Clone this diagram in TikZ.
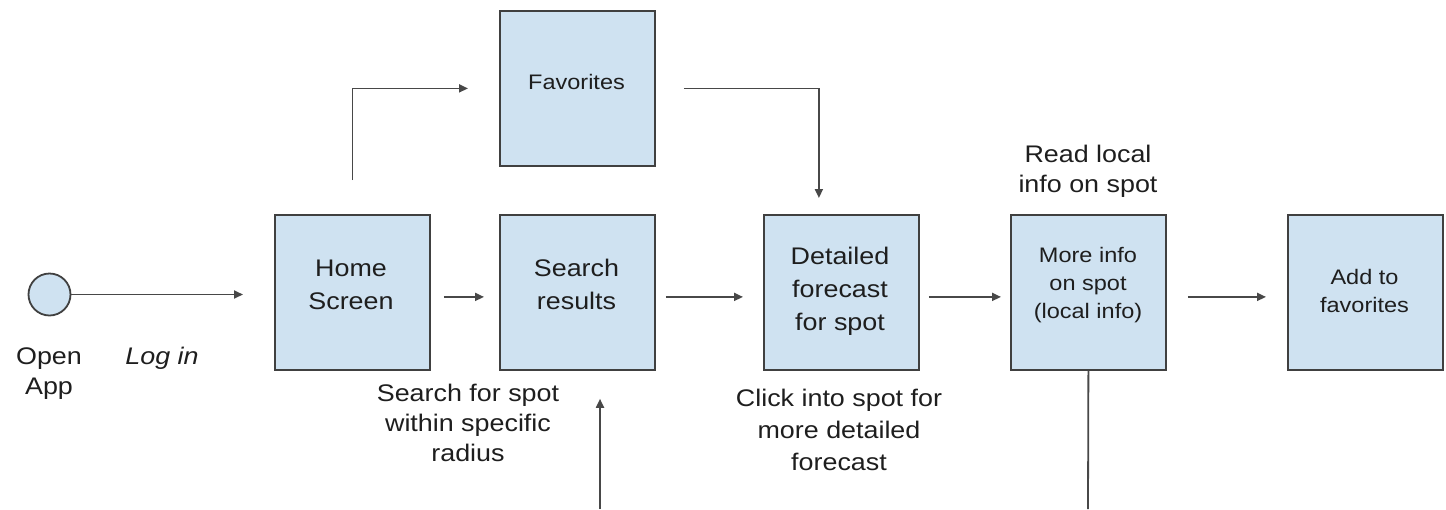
\documentclass[tikz,border=0pt]{standalone}
\usepackage{fontspec}
\setmainfont{Liberation Sans}[FakeStretch=1.12]
\usetikzlibrary{arrows.meta}

\definecolor{boxfill}{HTML}{CFE2F1}
\definecolor{boxline}{HTML}{404040}
\definecolor{wire}{HTML}{484848}
\definecolor{ink}{HTML}{1E1E1E}

\tikzset{
  stepbox/.style={draw=boxline, line width=1.8pt, fill=boxfill,
    minimum width=155pt, minimum height=155pt, inner sep=0pt, anchor=north west},
  startdot/.style={circle, draw=boxline, line width=1.8pt, fill=boxfill,
    minimum size=42pt, inner sep=0pt},
  bigtext/.style={text=ink, align=center, inner sep=0pt, font=\fontsize{24}{33}\selectfont},
  smalltext/.style={text=ink, align=center, inner sep=0pt, font=\fontsize{21}{28}\selectfont},
  note/.style={text=ink, align=center, inner sep=0pt, font=\fontsize{24}{30}\selectfont},
  flow/.style={draw=wire, line width=1.8pt, -{Triangle[length=9pt,width=8pt]}},
  wireline/.style={draw=wire, line width=1.8pt},
}

\begin{document}
\begin{tikzpicture}[x=1pt, y=-1pt]
  \useasboundingbox (0,0) rectangle (1446,509);

  % start point and step boxes
  \node[startdot] (start) at (49.5,294.5) {};
  \node[stepbox] (home)   at (274,214)  {};
  \node[stepbox] (search) at (499,214)  {};
  \node[stepbox] (fav)    at (499,10)   {};
  \node[stepbox] (detail) at (763,214)  {};
  \node[stepbox] (more)   at (1010,214) {};
  \node[stepbox] (add)    at (1287,214) {};

  % box captions
  \node[bigtext]   (homeT)   at (351,285)    {Home\\Screen};
  \node[bigtext]   (searchT) at (576.5,284.8) {Search\\results};
  \node[smalltext] (favT)    at (576.5,82.4) {Favorites};
  \node[bigtext]   (detailT) at (840,291.3)  {Detailed\\forecast\\for spot};
  \node[smalltext] (moreT)   at (1088,285.1) {More info\\on spot\\(local info)};
  \node[smalltext] (addT)    at (1364.5,290.8) {Add to\\favorites};

  % free notes
  \node[note] (openT)   at (49,373.8)   {Open\\App};
  \node[note] (loginT)  at (162,357.8)  {\itshape Log in};
  \node[note] (findT)   at (468,423.3)  {Search for spot\\within specific\\radius};
  \node[note, font=\fontsize{24}{32}\selectfont]
              (clickT)  at (839,430.3)  {Click into spot for\\more detailed\\forecast};
  \node[note] (readT)   at (1088,171.3) {Read local\\info on spot};

  % loose ends at the lower edge
  \coordinate (searchIn) at (600,509);
  \coordinate (moreOut)  at (1088,509);

  % main flow
  \draw[flow, shorten >=31pt] (start.east) -- (start.east -| home.west);
  \draw[flow, shorten <=13pt, shorten >=15pt]
    ([yshift=-4.5pt]home.east) -- ([yshift=-4.5pt]search.west);
  \draw[flow, shorten <=10pt, shorten >=20pt]
    ([yshift=-4.5pt]search.east) -- ([yshift=-4.5pt]detail.west);
  \draw[flow, shorten <=9pt, shorten >=9pt]
    ([yshift=-4.5pt]detail.east) -- ([yshift=-4.5pt]more.west);
  \draw[flow, shorten <=21pt, shorten >=21pt]
    ([yshift=-4.5pt]more.east) -- ([yshift=-4.5pt]add.west);

  % detour through favorites
  \draw[flow, shorten <=34pt, shorten >=31pt] (home.north) |- (fav.west);
  \draw[flow, shorten <=28pt, shorten >=16pt] (fav.east) -| ([xshift=-22.5pt]detail.north);

  % lines leaving the lower edge
  \draw[flow, shorten >=28pt] (searchIn) -- (searchIn |- search.south);
  \draw[wireline] (more.south) -- (moreOut);
\end{tikzpicture}
\end{document}
